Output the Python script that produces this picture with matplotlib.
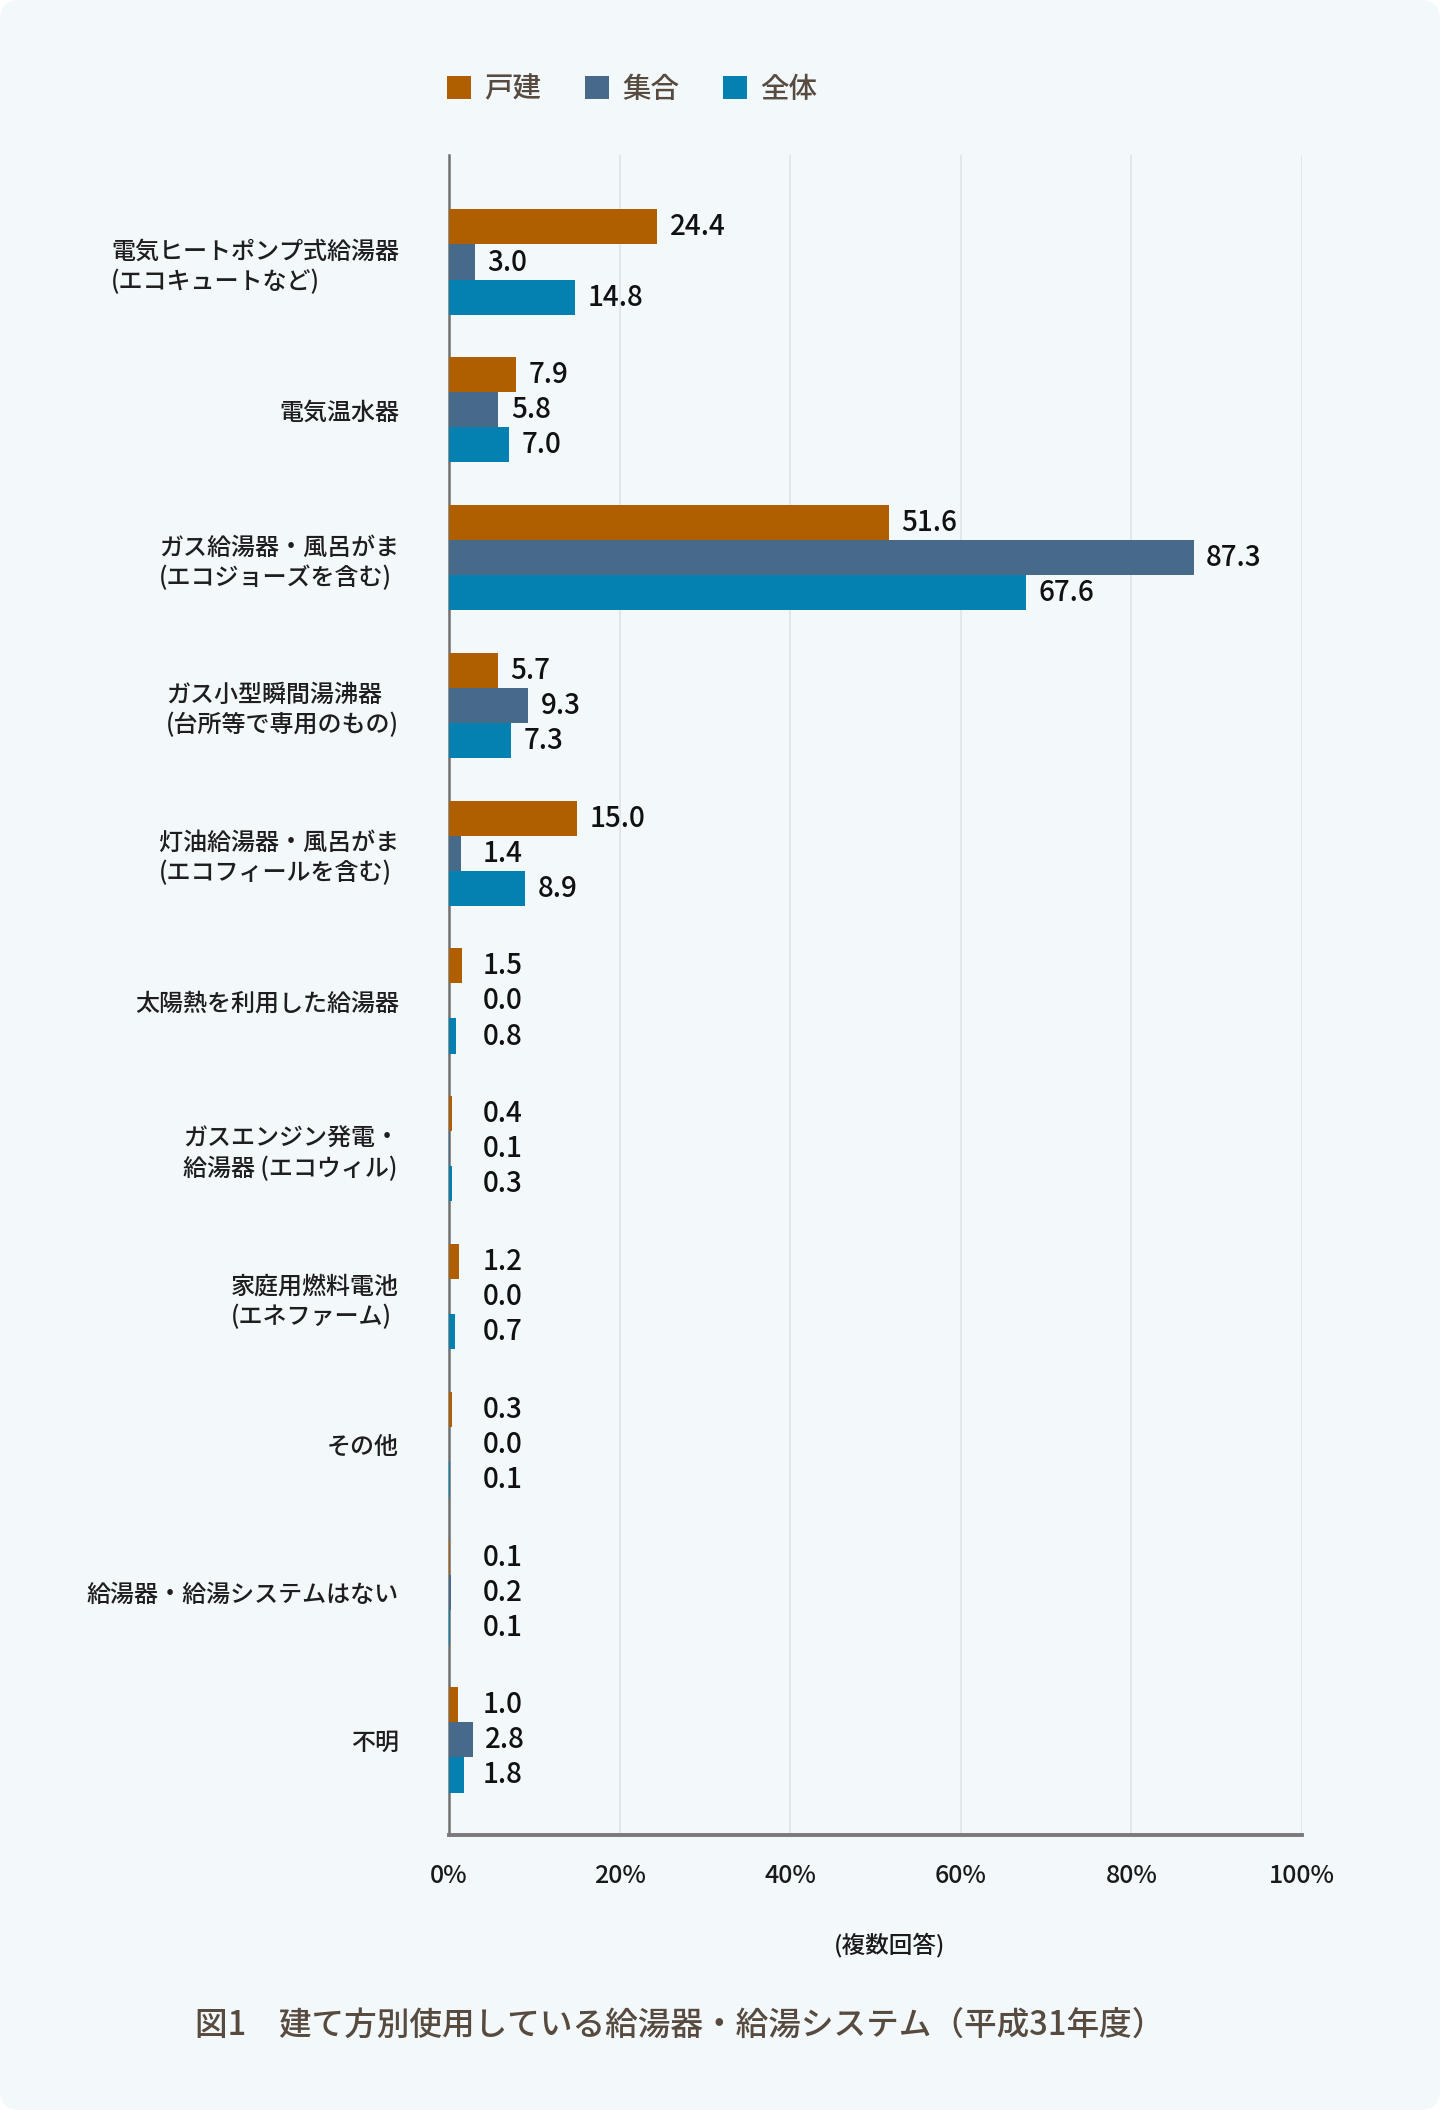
import numpy as np
import matplotlib
matplotlib.use("Agg")
import matplotlib.pyplot as plt
from matplotlib.patches import FancyBboxPatch, Patch
from matplotlib.transforms import IdentityTransform

plt.rcParams['font.family'] = ['Noto Sans CJK JP', 'DejaVu Sans']
plt.rcParams['font.weight'] = 'medium'

categories = [
    "電気ヒートポンプ式給湯器\n(エコキュートなど)",
    "電気温水器",
    "ガス給湯器・風呂がま\n(エコジョーズを含む)",
    "ガス小型瞬間湯沸器\n(台所等で専用のもの)",
    "灯油給湯器・風呂がま\n(エコフィールを含む)",
    "太陽熱を利用した給湯器",
    "ガスエンジン発電・\n給湯器 (エコウィル)",
    "家庭用燃料電池\n(エネファーム)",
    "その他",
    "給湯器・給湯システムはない",
    "不明",
]
detached = [24.4, 7.9, 51.6, 5.7, 15.0, 1.5, 0.4, 1.2, 0.3, 0.1, 1.0]
apartment = [3.0, 5.8, 87.3, 9.3, 1.4, 0.0, 0.1, 0.0, 0.0, 0.2, 2.8]
overall = [14.8, 7.0, 67.6, 7.3, 8.9, 0.8, 0.3, 0.7, 0.1, 0.1, 1.8]
series_names = ["戸建", "集合", "全体"]
xticks = [0, 20, 40, 60, 80, 100]

colors = ["#b05f00", "#47698a", "#0581b1"]
text_brown = "#574a3f"
bg = "#f3f8fb"

W, H = 1440, 2110
fig = plt.figure(figsize=(W / 100, H / 100), dpi=100, facecolor="white")
fig.patches.append(FancyBboxPatch((0, 0), W, H, boxstyle="round,pad=0,rounding_size=20",
                                  transform=IdentityTransform(), facecolor=bg,
                                  edgecolor="none", zorder=-10))

ax = fig.add_axes([449 / W, 1 - 1835 / H, (1302 - 449) / W, (1835 - 155) / H])
ax.set_facecolor("none")

y = np.arange(len(categories))
bh = 0.237
for i, vals in enumerate([detached, apartment, overall]):
    pos = y + (i - 1) * bh
    ax.barh(pos, vals, height=bh, color=colors[i], zorder=3, label=series_names[i])
    for p, v in zip(pos, vals):
        ax.annotate(f"{v:.1f}", xy=(max(v, 2.5), p), xytext=(9, 0),
                    textcoords="offset points", ha="left", va="center",
                    fontsize=20, color="#111111", zorder=4)

ax.set_xlim(0, 100)
ax.set_ylim(10.643, -0.724)
ax.set_xticks(xticks)
ax.set_xticklabels([f"{t}%" for t in xticks], fontsize=18, color="#1a1a1a")
ax.set_yticks(y)
ax.set_yticklabels(categories, fontsize=17.3, color="#1e1e1e")
for lab in ax.get_yticklabels():
    lab.set_multialignment("left")
ax.tick_params(axis="x", length=0, pad=20)
ax.tick_params(axis="y", length=0, pad=36)

ax.grid(axis="x", color="#dde2e6", linewidth=1.1, zorder=0)
ax.spines["top"].set_visible(False)
ax.spines["right"].set_visible(False)
ax.spines["left"].set_color("#707070")
ax.spines["left"].set_linewidth(1.8)
ax.spines["bottom"].set_color("#7a7a7a")
ax.spines["bottom"].set_linewidth(2.8)

handles = [Patch(facecolor=c, edgecolor="none") for c in colors]
fig.legend(handles, series_names, loc="center", bbox_to_anchor=(632 / W, 1 - 89 / H),
           ncol=3, frameon=False, fontsize=20.5, labelcolor=text_brown,
           handlelength=0.85, handleheight=0.85, handletextpad=0.45, columnspacing=1.55)

fig.text(890 / W, 1 - 1945 / H, "(複数回答)", ha="center", va="center",
         fontsize=17, color="#1a1a1a")
fig.text(195 / W, 1 - 2025 / H, "図1　建て方別使用している給湯器・給湯システム（平成31年度）",
         ha="left", va="center", fontsize=23.5, color=text_brown)

fig.savefig("out.png", dpi=100, facecolor="white")
